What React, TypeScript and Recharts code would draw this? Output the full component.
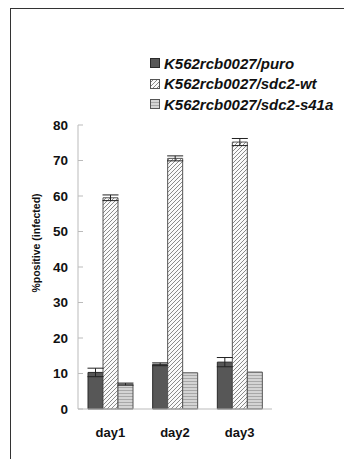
import { BarChart, Bar, XAxis, YAxis, ErrorBar } from 'recharts';

const categories = ['day1', 'day2', 'day3'];
const puro = [10.3, 12.6, 13.2];
const puroErr = [1.2, 0.4, 1.3];
const wt = [59.5, 70.6, 75.2];
const wtErr = [0.8, 0.7, 1.0];
const s41a = [7.0, 10.2, 10.4];
const s41aErr = [0.3, 0, 0];
const yTicks = [0, 10, 20, 30, 40, 50, 60, 70, 80];

const series = [
    { key: 'puro', err: 'puroErr', name: 'K562rcb0027/puro', fill: '#575757', stroke: '#2a2a2a' },
    { key: 'wt', err: 'wtErr', name: 'K562rcb0027/sdc2-wt', fill: 'url(#hatch)', stroke: '#555' },
    { key: 's41a', err: 's41aErr', name: 'K562rcb0027/sdc2-s41a', fill: 'url(#stripes)', stroke: '#555' },
];

const data = categories.map((day, i) => ({
    day,
    puro: puro[i],
    puroErr: puroErr[i],
    wt: wt[i],
    wtErr: wtErr[i],
    s41a: s41a[i],
    s41aErr: s41aErr[i],
}));

const font = 'Arial, "Liberation Sans", sans-serif';

function YTick(props: any) {
    const { x, y, payload } = props;
    return (
        <g>
            <line x1={x + 10} y1={y} x2={x + 15} y2={y} stroke="#bbb" />
            <text x={x} y={y} dy={4.5} textAnchor="end" fontFamily={font} fontWeight="bold" fontSize={13.5} fill="#111">
                {payload.value}
            </text>
        </g>
    );
}

export default function App() {
    return (
        <div style={{ position: 'absolute', left: 0, top: 0, width: 344, height: 459, background: '#fff', overflow: 'hidden' }}>
            <div style={{ position: 'absolute', left: 10, top: 8, right: -5, bottom: -5, borderTop: '1.5px solid #333', borderLeft: '1.5px solid #333' }} />
            <BarChart
                width={344}
                height={459}
                data={data}
                margin={{ top: 125, right: 72, bottom: 20, left: 45 }}
                barGap={0}
                barCategoryGap={10}
            >
                <defs>
                    <pattern id="hatch" patternUnits="userSpaceOnUse" width="4" height="4">
                        <rect width="4" height="4" fill="#fafafa" />
                        <path d="M-1,1 l2,-2 M0,4 l4,-4 M3,5 l2,-2" stroke="#8a8a8a" strokeWidth="1" />
                    </pattern>
                    <pattern id="stripes" patternUnits="userSpaceOnUse" width="4" height="3">
                        <rect width="4" height="3" fill="#d4d4d4" />
                        <rect y="0" width="4" height="1" fill="#a8a8a8" />
                    </pattern>
                </defs>
                <XAxis
                    dataKey="day"
                    height={30}
                    tickLine={false}
                    axisLine={{ stroke: '#bbb' }}
                    tickMargin={13}
                    tick={{ fontFamily: font, fontWeight: 'bold', fontSize: 13, fill: '#111' }}
                />
                <YAxis
                    width={33}
                    domain={[0, 80]}
                    ticks={yTicks}
                    interval={0}
                    tickLine={false}
                    tickSize={4}
                    tickMargin={6}
                    axisLine={{ stroke: '#bbb' }}
                    tick={<YTick />}
                    label={{
                        content: () => (
                            <text
                                x={0}
                                y={0}
                                transform="translate(40,243) rotate(-90)"
                                textAnchor="middle"
                                fontFamily={font}
                                fontWeight="bold"
                                fontSize={10.5}
                                fill="#111"
                            >
                                %positive (infected)
                            </text>
                        ),
                    }}
                />
                {series.map((s) => (
                    <Bar key={s.key} dataKey={s.key} fill={s.fill} stroke={s.stroke} strokeWidth={1} isAnimationActive={false}>
                        <ErrorBar dataKey={s.err} width={8} stroke="#222" strokeWidth={1} />
                    </Bar>
                ))}
            </BarChart>
            <div style={{ position: 'absolute', left: 150, top: 53, fontFamily: font, fontWeight: 'bold', fontStyle: 'italic', fontSize: 15, color: '#111' }}>
                {series.map((s) => (
                    <div key={s.key} style={{ display: 'flex', alignItems: 'center', height: 20.5 }}>
                        <svg width={10} height={10} style={{ marginRight: 4 }}>
                            <rect x={0.5} y={0.5} width={9} height={9} fill={s.fill} stroke={s.stroke} />
                        </svg>
                        <span>{s.name}</span>
                    </div>
                ))}
            </div>
        </div>
    );
}
